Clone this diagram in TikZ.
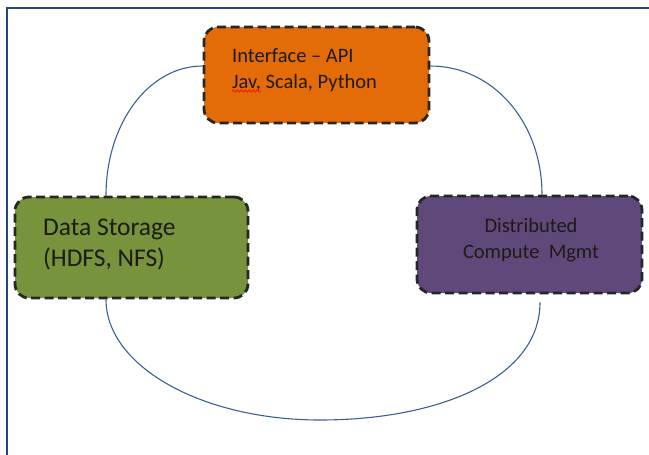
\documentclass[tikz,border=0pt]{standalone}
\usepackage{fontspec}
\setmainfont{Carlito}
\usetikzlibrary{decorations.pathmorphing}
\definecolor{frameblue}{HTML}{1F497D}
\definecolor{linkblue}{HTML}{3A5F95}
\definecolor{orangefill}{HTML}{E36C09}
\definecolor{greenfill}{HTML}{77933C}
\definecolor{purplefill}{HTML}{5F497A}
\definecolor{txt}{HTML}{1E1A14}
\tikzset{
  box/.style={draw=black!85, line width=2.8pt, dash pattern=on 9pt off 4.5pt,
    rounded corners=14pt, inner sep=0pt},
  link/.style={draw=linkblue, line width=1.1pt},
  lbl/.style={text=txt, inner sep=0pt, font=\fontsize{20.5}{24}\selectfont},
  biglbl/.style={text=txt, inner sep=0pt, font=\fontsize{25.5}{29}\selectfont},
}
\begin{document}
\begin{tikzpicture}[x=1pt,y=-1pt]
\useasboundingbox (0,0) rectangle (649,455);
% frame
\draw[frameblue, line width=2.2pt] (7,455) -- (7,8) -- (649,8);
% boxes
\node[box, fill=orangefill, minimum width=225pt, minimum height=96pt] (api) at (316.5,75) {};
\node[box, fill=greenfill, minimum width=233pt, minimum height=101pt] (store) at (131.5,247.5) {};
\node[box, fill=purplefill, minimum width=225pt, minimum height=97pt] (comp) at (529.5,244.5) {};
% connectors
\draw[link] ([yshift=9pt]api.west) .. controls +(-54,0) and +(0,-72) .. ([xshift=-25.5pt]store.north);
\draw[link] ([yshift=9pt]api.east) .. controls +(63,0) and +(0,-72) .. ([xshift=12.5pt]comp.north);
\coordinate (bot) at (320,420);
\draw[link] ([xshift=-25.5pt]store.south) .. controls +(0,67) and +(-118,0) .. (bot)
  .. controls +(121,0) and +(0,75) .. ([xshift=10.5pt,yshift=-8pt]comp.south);
% texts
\node[lbl, anchor=base west] (api1) at (232,62) {Interface – API};
\node[lbl, anchor=base west] (api2) at (232,88) {Jav, Scala, Python};
\draw[red, line width=0.6pt, decorate, decoration={snake, amplitude=1.2pt, segment length=4pt}] (232,91) -- (261,91);
\node[biglbl, anchor=base west] (st1) at (43,235) {Data Storage};
\node[biglbl, anchor=base west] (st2) at (43,266) {(HDFS, NFS)};
\node[lbl, anchor=base] (cp1) at (531,232) {Distributed};
\node[lbl, anchor=base] (cp2) at (531,258) {Compute\ \ Mgmt};
\end{tikzpicture}
\end{document}
